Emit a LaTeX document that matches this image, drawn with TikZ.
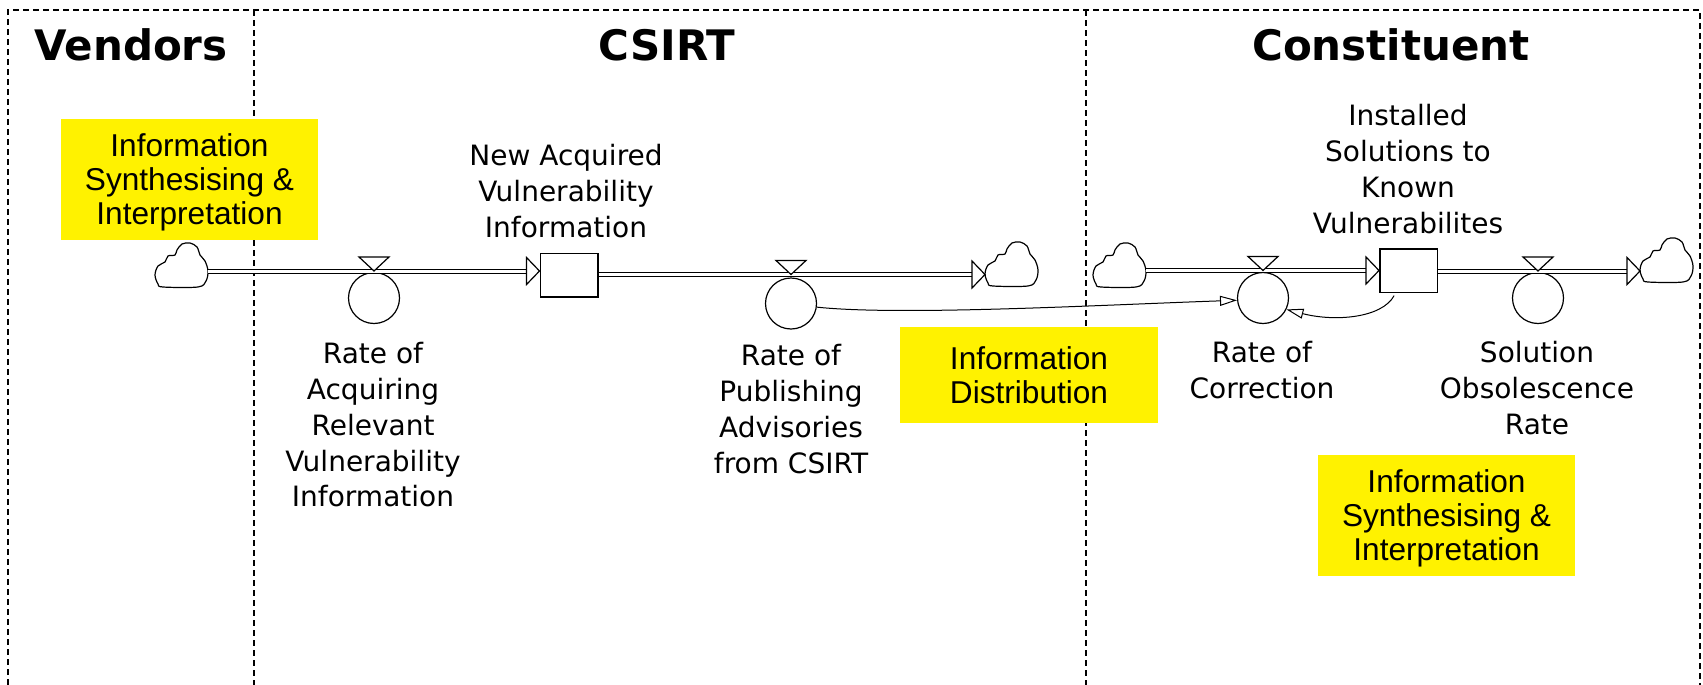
\documentclass[tikz,border=0pt]{standalone}
\usepackage{fontspec}
\setmainfont{DejaVu Sans}
\newfontfamily\boxfont{Liberation Sans}
\usetikzlibrary{arrows.meta}

\begin{document}
\begin{tikzpicture}[x=0.5pt, y=-0.5pt,
  frame/.style={dash pattern=on 3pt off 2pt, line width=0.6pt},
  pipe/.style={draw, double=white, double distance=1.5pt, line width=0.5pt},
  stockbox/.style={draw, rectangle, line width=0.75pt, minimum width=28.75pt,
    minimum height=21.75pt, inner sep=0pt, fill=white},
  auxcirc/.style={draw, circle, minimum size=25.5pt, inner sep=0pt, line width=0.6pt},
  link/.style={draw, line width=0.5pt, -{Triangle[open, length=8.5pt, width=5pt]}},
  varlabel/.style={font=\fontsize{14}{17.9}\selectfont, align=center, anchor=north, inner sep=0pt},
  paneltitle/.style={font=\fontsize{21}{25}\selectfont\bfseries, anchor=base, inner sep=0pt},
  ybox/.style={fill=yellow, font=\boxfont\fontsize{15.8}{17}\selectfont, align=center, inner sep=0pt},
  cloudpic/.pic={\draw[line width=0.6pt, fill=white] plot[smooth cycle, tension=0.55]
    coordinates {(8,44) (43,44) (51,38) (53,28) (50,18) (45,12) (42,4) (35,0) (27,1)
      (22,7) (20,12) (13,13) (10,19) (3,23) (0,32) (3,41)};},
  flowtip/.pic={\draw[line width=0.6pt, fill=white] (-13,-13.5) -- (0,0) -- (-13,13.5) -- cycle;},
  valve/.pic={\draw[line width=0.6pt, fill=white] (-15,-14) -- (15,-14) -- (0,0) -- cycle;}
]
\useasboundingbox (0,0) rectangle (1703,685);

% panel frame and separators
\draw[frame] (8,685) -- (8,10) -- (1700,10) -- (1700,685);
\draw[frame] (254,10) -- (254,685);
\draw[frame] (1086,10) -- (1086,685);

% panel titles
\node[paneltitle] (tv) at (131,60) {Vendors};
\node[paneltitle] (tc) at (667,60) {CSIRT};
\node[paneltitle] (tk) at (1391,60) {Constituent};

% sources and sinks
\pic at (155,243) {cloudpic};
\pic at (985,242) {cloudpic};
\pic at (1093,243) {cloudpic};
\pic at (1640,238) {cloudpic};
\coordinate (c1) at (208,271);
\coordinate (c2) at (985,274.5);
\coordinate (c3) at (1146,270.5);
\coordinate (c4) at (1640,271);

% stocks and rates
\node[stockbox] (s1) at (569,275) {};
\node[stockbox] (s2) at (1408.5,270.5) {};
\node[auxcirc] (r1) at (374,298) {};
\node[auxcirc] (r2) at (791,303.5) {};
\node[auxcirc] (r3) at (1263,298) {};
\node[auxcirc] (r4) at (1538,298) {};

% flow pipes
\draw[pipe, shorten >=6.5pt] (c1) -- (c1 -| s1.west);
\pic at (c1 -| s1.west) {flowtip};
\draw[pipe, shorten >=6.5pt] (s1.east |- c2) -- (c2);
\pic at (c2) {flowtip};
\draw[pipe, shorten >=6.5pt] (c3) -- (c3 -| s2.west);
\pic at (c3 -| s2.west) {flowtip};
\draw[pipe, shorten >=6.5pt] (s2.east |- c4) -- (c4);
\pic at (c4) {flowtip};

% valves
\pic at (r1.north |- c1) {valve};
\pic at (r2.north |- c2) {valve};
\pic at (r3.north |- c3) {valve};
\pic at (r4.north |- c4) {valve};

% information links
\draw[link] (r2.-8) .. controls (900,316) and (1100,305) .. (r3.185);
\draw[link, shorten <=1.5pt] (s2.-120) .. controls (1382,318) and (1335,322) .. (r3.-26);

% annotation boxes
\node[ybox, text depth=0pt, minimum width=128.5pt, minimum height=60.5pt] (y1) at (189.5,179.5)
  {Information\\Synthesising \&\\Interpretation};
\node[ybox, minimum width=129pt, minimum height=48pt] (y2) at (1029,375)
  {Information\\Distribution};
\node[ybox, text depth=0pt, minimum width=128.5pt, minimum height=60.5pt] (y3) at (1446.5,515.5)
  {Information\\Synthesising \&\\Interpretation};

% variable names
\node[varlabel] (l1) at (566,144) {New Acquired\\Vulnerability\\Information};
\node[varlabel] (l2) at (373,342) {Rate of\\Acquiring\\Relevant\\Vulnerability\\Information};
\node[varlabel] (l3) at (791,344) {Rate of\\Publishing\\Advisories\\from CSIRT};
\node[varlabel] (l4) at (1262,341) {Rate of\\Correction};
\node[varlabel] (l5) at (1537,341) {Solution\\Obsolescence\\Rate};
\node[varlabel] (l6) at (1408,104) {Installed\\Solutions to\\Known\\Vulnerabilites};
\end{tikzpicture}
\end{document}
